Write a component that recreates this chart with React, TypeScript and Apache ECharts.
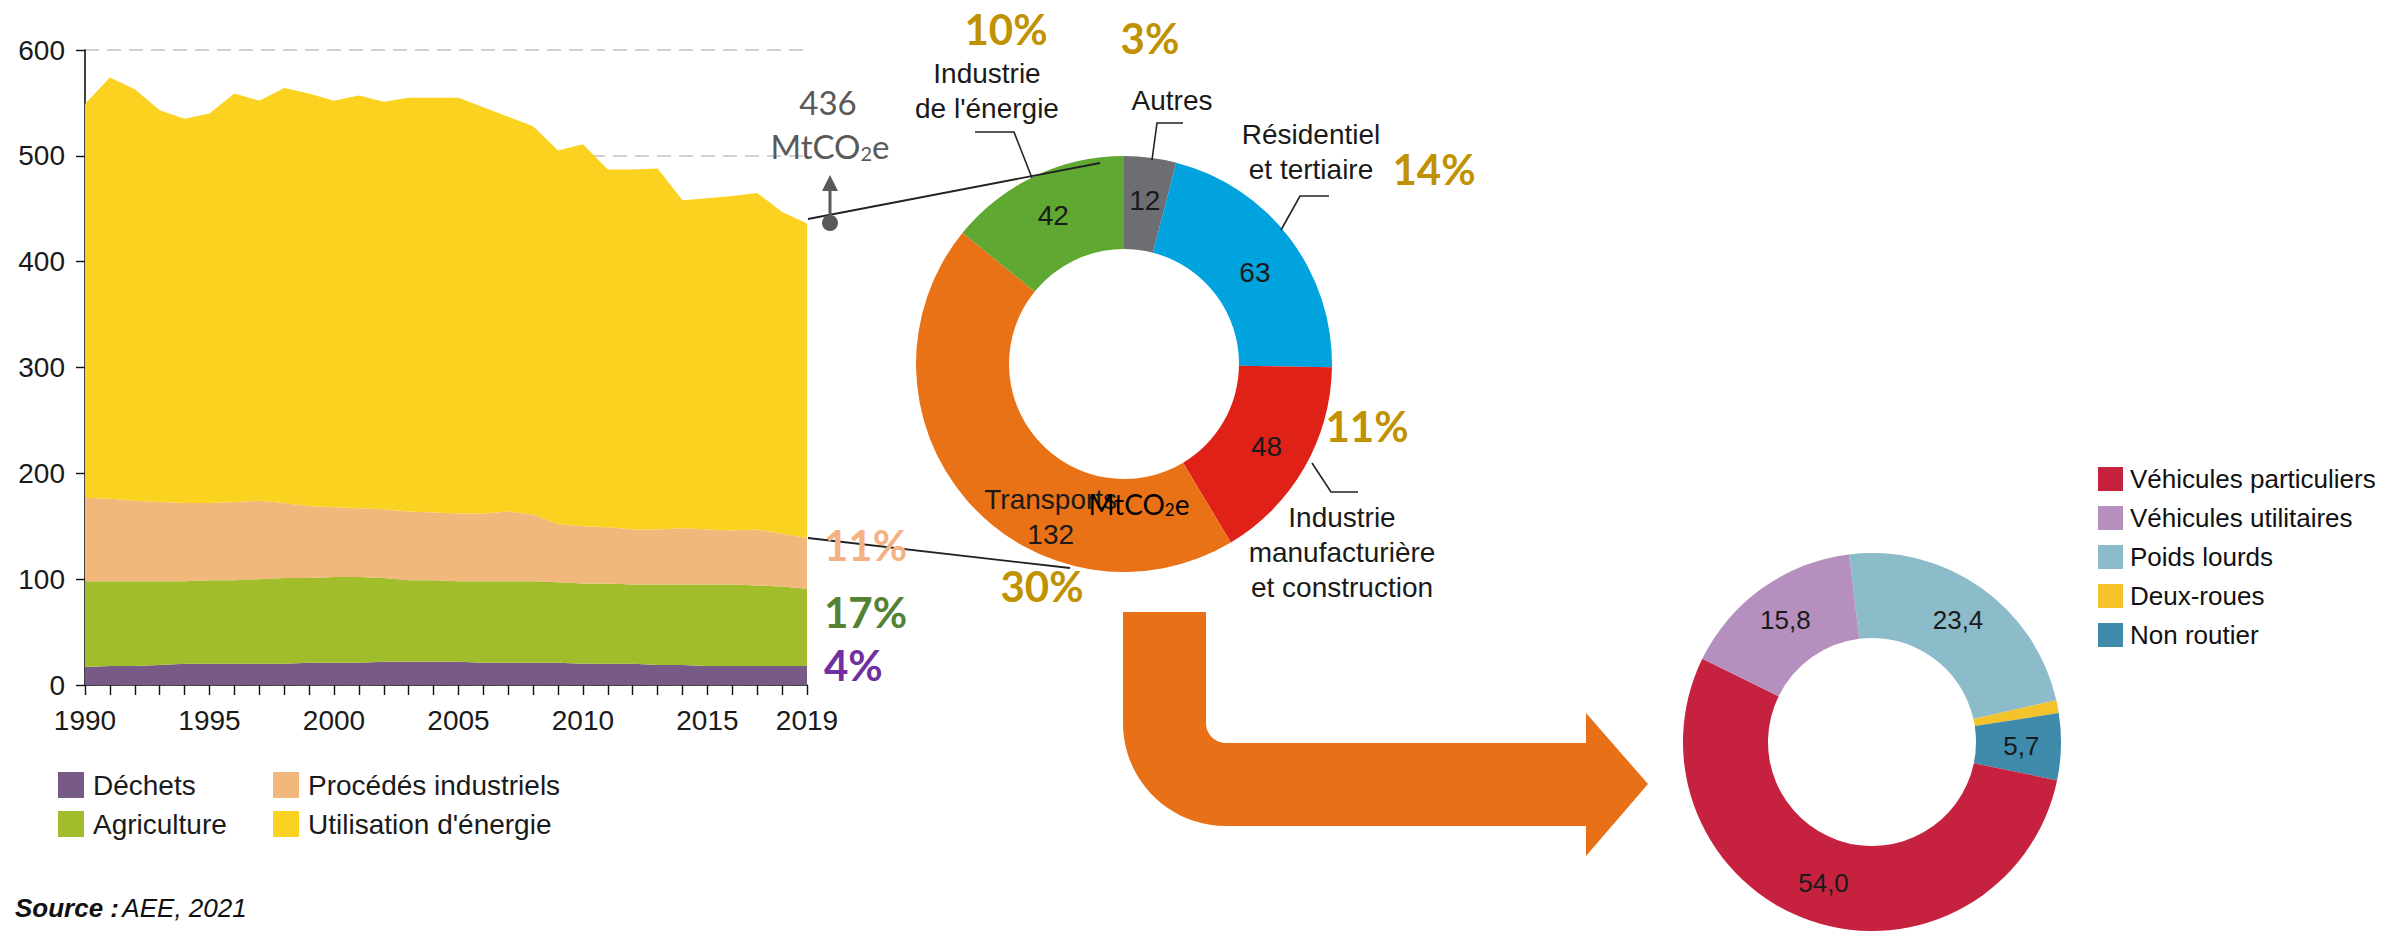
import React, { useEffect, useRef } from "react";
import * as echarts from "echarts";

// ---------- DATA ----------
const years = ["1990","1991","1992","1993","1994","1995","1996","1997","1998","1999","2000","2001","2002","2003","2004","2005","2006","2007","2008","2009","2010","2011","2012","2013","2014","2015","2016","2017","2018","2019"];
const yTicks = [0, 100, 200, 300, 400, 500, 600];
const dechets = [17,18,18,19,20,20,20,20,20,21,21,21,22,22,22,22,21,21,21,21,20,20,20,19,19,18,18,18,18,18];
const agriculture = [81,80,80,79,78,79,79,80,81,80,81,81,79,77,77,76,77,77,77,76,76,76,75,76,76,77,77,76,75,73];
const procedes = [79,78,76,75,74,73,74,74,71,68,66,65,65,65,64,64,64,66,63,55,54,53,52,52,53,52,51,53,50,48];
const energie = [372,398,389,370,363,368,386,378,392,390,384,390,385,391,392,393,384,373,367,353,361,338,340,341,310,313,316,318,304,297];

const sectorNames = ["Autres", "Résidentiel et tertiaire", "Industrie manufacturière et construction", "Transports", "Industrie de l'énergie"];
const sectorValues = [12, 63, 48, 132, 42];
const sectorColors = ["#6d6e71", "#00a3dd", "#df2118", "#e97217", "#5fa933"];

const transportNames = ["Poids lourds", "Deux-roues", "Non routier", "Véhicules particuliers", "Véhicules utilitaires"];
const transportValues = [23.4, 1.1, 5.7, 54.0, 15.8];
const transportColors = ["#8cbbc9", "#f4c22b", "#3e8bab", "#c6223f", "#b58fbd"];
const transportLegendOrder = ["Véhicules particuliers", "Véhicules utilitaires", "Poids lourds", "Deux-roues", "Non routier"];

// ---------- DECORATION ----------
const ARROW_D =
  "M1123 612 L1206 612 L1206 723 C1206 734 1215 743 1226 743 L1586 743 L1586 713 L1648 784 L1586 856 L1586 826 L1226 826 C1169 826 1123 780 1123 723 Z";
echarts.graphic.registerShape("orangeArrow", echarts.graphic.extendPath(ARROW_D, {}));

const SANS = "'Liberation Sans', Arial, Helvetica, sans-serif";
const CAL = "Lato, 'Open Sans', sans-serif";
const GOLD = "#c09100";
const INK = "#1a1a1a";

function App() {
  const ref = useRef<HTMLDivElement>(null);
  useEffect(() => {
    if (!ref.current) return;
    const chart = echarts.init(ref.current, null, { renderer: "svg" });

    const areaSeries = (name: string, data: number[], color: string) => ({
      name,
      type: "line",
      stack: "total",
      data,
      showSymbol: false,
      symbol: "none",
      smooth: false,
      silent: true,
      lineStyle: { width: 0, color },
      itemStyle: { color },
      areaStyle: { color, opacity: 1 },
      emphasis: { disabled: true },
      z: 2,
    });

    const pct = (text: string, x: number, y: number, fill: string, align = "center") => ({
      type: "text",
      x,
      y,
      z: 100,
      style: { text, fill, fontSize: 42, fontWeight: "bold", fontFamily: CAL, align, verticalAlign: "middle" },
    });
    const lbl = (text: string, x: number, y: number) => ({
      type: "text",
      x,
      y,
      z: 100,
      style: { text, fill: INK, fontSize: 28, fontFamily: SANS, align: "center", verticalAlign: "middle", lineHeight: 35 },
    });
    const pl = (points: number[][]) => ({
      type: "polyline",
      z: 100,
      shape: { points },
      style: { stroke: "#222", lineWidth: 1.6, fill: null },
    });
    const co2 = (x: number, y: number, size: number, fill: string) => ({
      type: "text",
      x,
      y,
      z: 110,
      style: {
        text: "{a|MtCO}{s|2}{a|e}",
        fill,
        align: "center",
        verticalAlign: "middle",
        rich: {
          a: { fontSize: size, fontFamily: CAL, fill, lineHeight: size * 1.25, verticalAlign: "bottom" },
          s: { fontSize: Math.round(size * 0.62), fontFamily: CAL, fill, lineHeight: size * 0.7, verticalAlign: "bottom" },
        },
      },
    });

    const option: any = {
      animation: false,
      backgroundColor: "#ffffff",
      grid: { left: 85, top: 50, width: 722, height: 635, containLabel: false },
      xAxis: {
        type: "category",
        data: years,
        boundaryGap: false,
        axisLine: { show: true, lineStyle: { color: "#111", width: 1.6 } },
        axisTick: { show: true, interval: 0, length: 10, lineStyle: { color: "#111", width: 1.4 } },
        axisLabel: {
          interval: (i: number) => i % 5 === 0 || i === years.length - 1,
          fontSize: 28,
          fontFamily: SANS,
          color: INK,
          margin: 21,
        },
        splitLine: { show: false },
      },
      yAxis: {
        type: "value",
        min: yTicks[0],
        max: yTicks[yTicks.length - 1],
        interval: 100,
        axisLine: { show: true, lineStyle: { color: "#111", width: 1.6 } },
        axisTick: { show: true, length: 9, lineStyle: { color: "#111", width: 1.4 } },
        axisLabel: { fontSize: 28, fontFamily: SANS, color: INK, margin: 20 },
        splitLine: { show: true, lineStyle: { color: "#c4c4c4", width: 1.5, type: [14, 8] } },
      },
      legend: [
        {
          orient: "vertical",
          left: 53,
          top: 766,
          icon: "rect",
          itemWidth: 26,
          itemHeight: 26,
          itemGap: 11,
          selectedMode: false,
          data: ["Déchets", "Agriculture"],
          textStyle: { fontSize: 28, fontFamily: SANS, color: INK, padding: [0, 0, 0, 4] },
        },
        {
          orient: "vertical",
          left: 268,
          top: 766,
          icon: "rect",
          itemWidth: 26,
          itemHeight: 26,
          itemGap: 11,
          selectedMode: false,
          data: ["Procédés industriels", "Utilisation d'énergie"],
          textStyle: { fontSize: 28, fontFamily: SANS, color: INK, padding: [0, 0, 0, 4] },
        },
        {
          orient: "vertical",
          left: 2093,
          top: 461,
          icon: "rect",
          itemWidth: 25,
          itemHeight: 24,
          itemGap: 13,
          selectedMode: false,
          data: transportLegendOrder,
          textStyle: { fontSize: 26, fontFamily: SANS, color: "#111", padding: [0, 0, 0, 2] },
        },
      ],
      series: [
        areaSeries("Déchets", dechets, "#785a86"),
        areaSeries("Agriculture", agriculture, "#a2bd2b"),
        areaSeries("Procédés industriels", procedes, "#f2b77a"),
        areaSeries("Utilisation d'énergie", energie, "#fad21f"),
        {
          type: "pie",
          name: "secteurs",
          center: [1124, 364],
          radius: [115, 208],
          startAngle: 90,
          clockwise: true,
          silent: true,
          avoidLabelOverlap: false,
          emphasis: { disabled: true },
          itemStyle: { borderWidth: 0 },
          label: {
            show: true,
            position: "inside",
            fontSize: 28,
            fontFamily: SANS,
            color: INK,
            lineHeight: 35,
            formatter: (p: any) => (p.name === "Transports" ? p.name + "\n" + p.value : String(p.value)),
          },
          labelLine: { show: false },
          labelLayout: (p: any) => (p.dataIndex === 3 ? { dx: 51, dy: 45 } : p.dataIndex === 1 ? { dy: 8 } : {}),
          data: sectorNames.map((n, i) => ({ name: n, value: sectorValues[i], itemStyle: { color: sectorColors[i] } })),
          z: 3,
        },
        {
          type: "pie",
          name: "transports",
          center: [1872, 742],
          radius: [104, 189],
          startAngle: 97,
          clockwise: true,
          silent: true,
          avoidLabelOverlap: false,
          emphasis: { disabled: true },
          itemStyle: { borderWidth: 0 },
          label: {
            show: true,
            position: "inside",
            fontSize: 26,
            fontFamily: SANS,
            color: "#1a1a1a",
            formatter: (p: any) => p.value.toFixed(1).replace(".", ","),
          },
          labelLine: { show: false },
          data: transportNames.map((n, i) => ({
            name: n,
            value: transportValues[i],
            itemStyle: { color: transportColors[i] },
            label: n === "Deux-roues" ? { show: false } : undefined,
          })),
          z: 3,
        },
      ],
      graphic: [
        { type: "orangeArrow", x: 0, y: 0, scaleX: 1, scaleY: 1, z: 1, style: { fill: "#e87118" } },
        // connector lines from area chart to donut
        { type: "line", z: 100, shape: { x1: 808, y1: 219, x2: 1100, y2: 163 }, style: { stroke: "#222", lineWidth: 1.8 } },
        { type: "line", z: 100, shape: { x1: 808, y1: 538, x2: 1070, y2: 568 }, style: { stroke: "#222", lineWidth: 1.8 } },
        // 436 marker
        { type: "line", z: 100, shape: { x1: 830, y1: 223, x2: 830, y2: 189 }, style: { stroke: "#595959", lineWidth: 3 } },
        { type: "polygon", z: 100, shape: { points: [[822, 191], [838, 191], [830, 175]] }, style: { fill: "#595959" } },
        { type: "circle", z: 100, shape: { cx: 830, cy: 223, r: 8 }, style: { fill: "#595959" } },
        { type: "text", x: 828, y: 102, z: 100, style: { text: "436", fill: "#595959", fontSize: 33, fontFamily: CAL, align: "center", verticalAlign: "middle" } },
        co2(830, 142, 33, "#595959"),
        // leader lines
        pl([[975, 132], [1014, 132], [1032, 178]]),
        pl([[1183, 123], [1157, 123], [1152, 160]]),
        pl([[1329, 196], [1300, 196], [1281, 230]]),
        pl([[1312, 463], [1331, 492], [1358, 492]]),
        // sector labels
        lbl("Industrie\nde l'énergie", 987, 91),
        lbl("Autres", 1172, 100),
        lbl("Résidentiel\net tertiaire", 1311, 152),
        lbl("Industrie\nmanufacturière\net construction", 1342, 552),
        // percentages
        pct("10%", 1006, 29, GOLD),
        pct("3%", 1150, 38, GOLD),
        pct("14%", 1434, 169, GOLD),
        pct("11%", 1367, 426, GOLD),
        pct("30%", 1042, 586, GOLD),
        pct("11%", 824, 545, "#f4b183", "left"),
        pct("17%", 824, 612, "#548235", "left"),
        pct("4%", 824, 665, "#7030a0", "left"),
        co2(1139, 500, 28, "#000000"),
        // source
        {
          type: "text",
          x: 15,
          y: 908,
          z: 100,
          style: {
            text: "{b|Source :} {i|AEE, 2021}",
            verticalAlign: "middle",
            rich: {
              b: { fontSize: 26, fontFamily: SANS, fontWeight: "bold", fontStyle: "italic", fill: "#111" },
              i: { fontSize: 26, fontFamily: SANS, fontStyle: "italic", fill: "#111" },
            },
          },
        },
      ],
    };

    chart.setOption(option);
    return () => chart.dispose();
  }, []);

  return (
    <div
      ref={ref}
      style={{ position: "fixed", left: 0, top: 0, width: 2402, height: 937, background: "#fff" }}
    />
  );
}

export default App;
